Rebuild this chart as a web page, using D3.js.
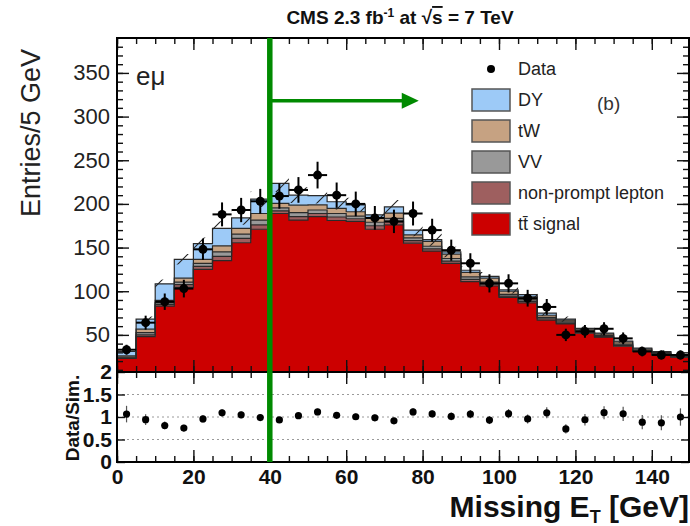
<!DOCTYPE html>
<html>
<head>
<meta charset="utf-8">
<script src="https://cdn.jsdelivr.net/npm/d3@7"></script>
<style>
  body { margin: 0; background: #fff; }
  svg { display: block; font-family: "Liberation Sans", Arial, Helvetica, sans-serif; }
</style>
</head>
<body>
<svg id="chart" width="690" height="526"></svg>
<script>
// Missing transverse energy, e-mu channel, 5 GeV bins
const binEdges = [0,5,10,15,20,25,30,35,40,45,50,55,60,65,70,75,80,85,90,95,100,105,110,115,120,125,130,135,140,145,150];

// Simulated contributions per bin (events)
const ttSignal    = [23,48,83,104.5,125,135,155.5,171,189,181.5,185.5,181,180,171,176,155,146,132,111,106,93,86.5,67,62.5,52,47.5,37,31,27,24.5];
const nonPrompt   = [0.5,2,2,3,3.5,5,5,5,3,4,3.5,4,3,4,3.5,3,2.5,2.5,2.5,2,1.5,1.5,1.5,1,1,0.5,1,0.5,0.5,0.3];
const dibosonVV   = [1,2.5,2,3,3.5,5,5,5.5,3.5,4.5,4,4,3,4,4,3,3,3,3,2.5,2,2,1.5,1.5,1.5,1.5,1.5,1,1,0.7];
const singleTopTW = [1.5,4,2.5,4.5,4.5,7,6.5,7.5,5,8.5,6,6,5,4.5,6,3.5,5.5,5,5,4.5,3.5,3.5,2.5,2,2,1.5,2.5,1.5,1.5,1];
const drellYan    = [5,11.5,19,21.5,18,20,12,16.5,23,11.5,10.5,7.5,8,4,7,5.5,2,2.5,2.5,2,1.5,2.5,2.5,1,1,1,1,1,1,0.5];
// Total simulation uncertainty (events)
const mcUnc       = [1.5,3,5,6,7,8,8,9,10,9,9,9,8,8,8,7,7,6,5,5,4,4,3,3,2.5,2.5,2,1.5,1.5,1.2];

// Observed events and their statistical errors
const dataCounts  = [33,64,88,103,148,188,193,203,209,216,233,210,200,184,180,189,170,147,132,109,109,92,82,50,54,57,46,31,27,27];
const dataErr     = [5.7,8,9.4,10.1,12.2,13.7,13.9,14.2,14.5,14.7,15.3,14.5,14.1,13.6,13.4,13.7,13,12.1,11.5,10.4,10.4,9.6,9.1,7.1,7.3,7.5,6.8,5.6,5.2,5.2];

// Axis ticks
const yMainMajor  = [50,100,150,200,250,300,350];
const xMajor      = [0,20,40,60,80,100,120,140];
const ratioMajor  = [0,0.5,1,1.5,2];
const ratioGrid   = [0.5,1,1.5];

// Selection cut annotation (GeV) and arrow
const cutValue = 40, arrowLevel = 318, arrowEnd = 79;

const layers = [
  { label: "t\u0074\u0304 signal",   values: ttSignal,    color: "#cc0000" },
  { label: "non-prompt lepton", values: nonPrompt,   color: "#9e5f5f" },
  { label: "VV",                values: dibosonVV,   color: "#999999" },
  { label: "tW",                values: singleTopTW, color: "#c6a282" },
  { label: "DY",                values: drellYan,    color: "#9dcaf7" }
];

const svg = d3.select("#chart");
const plotL = 117, plotR = 690, mainT = 38, mainB = 372, ratioB = 462;

const x  = d3.scaleLinear().domain([0, 150]).range([plotL, plotR]);
const y  = d3.scaleLinear().domain([7.5, 390]).range([mainB, mainT]);
const yr = d3.scaleLinear().domain([0, 2]).range([ratioB, mainB]);

const defs = svg.append("defs");
defs.append("clipPath").attr("id", "clipMain")
  .append("rect").attr("x", plotL).attr("y", mainT).attr("width", plotR - plotL).attr("height", mainB - mainT);
defs.append("clipPath").attr("id", "clipRatio")
  .append("rect").attr("x", plotL).attr("y", mainB).attr("width", plotR - plotL).attr("height", ratioB - mainB);
const hatch = defs.append("pattern").attr("id", "hatch")
  .attr("patternUnits", "userSpaceOnUse").attr("width", 26).attr("height", 26);
hatch.append("path")
  .attr("d", "M0,26 L26,0 M-6.5,6.5 L6.5,-6.5 M19.5,32.5 L32.5,19.5")
  .attr("stroke", "#222").attr("stroke-width", 1.1);

const nBins = binEdges.length - 1;
const bins = d3.range(nBins);

// cumulative stack
let base = bins.map(() => 0);
const bands = layers.map(l => {
  const lo = base.slice();
  const hi = bins.map(i => lo[i] + l.values[i]);
  base = hi;
  return { layer: l, lo, hi };
});
const total = base;

function stepPts(lo, hi) {
  const pts = [];
  bins.forEach(i => {
    pts.push({ x: binEdges[i], lo: lo[i], hi: hi[i] });
    pts.push({ x: binEdges[i + 1], lo: lo[i], hi: hi[i] });
  });
  return pts;
}
const area = d3.area().x(d => x(d.x)).y0(d => y(Math.max(d.lo, 0))).y1(d => y(d.hi));
const topLine = d3.line().x(d => x(d.x)).y(d => y(d.hi));

const gMain = svg.append("g").attr("clip-path", "url(#clipMain)");
bands.forEach(b => {
  const lo = b.layer === layers[0] ? bins.map(() => 0) : b.lo;
  gMain.append("path").attr("d", area(stepPts(lo, b.hi))).attr("fill", b.layer.color);
});
bands.forEach(b => {
  gMain.append("path").attr("d", topLine(stepPts(b.lo, b.hi)))
    .attr("fill", "none").attr("stroke", "#2a2a2a").attr("stroke-width", 1.2);
});
// simulation uncertainty band
gMain.append("path")
  .attr("d", area(stepPts(bins.map(i => total[i] - mcUnc[i]), bins.map(i => total[i] + mcUnc[i]))))
  .attr("fill", "url(#hatch)");

// data points
const gData = gMain.append("g").attr("stroke", "#000").attr("stroke-width", 2);
bins.forEach(i => {
  const cx = x((binEdges[i] + binEdges[i + 1]) / 2);
  gData.append("line").attr("x1", x(binEdges[i])).attr("x2", x(binEdges[i + 1]))
    .attr("y1", y(dataCounts[i])).attr("y2", y(dataCounts[i]));
  gData.append("line").attr("x1", cx).attr("x2", cx)
    .attr("y1", y(dataCounts[i] - dataErr[i])).attr("y2", y(dataCounts[i] + dataErr[i]));
  gData.append("circle").attr("cx", cx).attr("cy", y(dataCounts[i])).attr("r", 4.5)
    .attr("fill", "#000").attr("stroke", "none");
});

// ratio panel
const gRatio = svg.append("g").attr("clip-path", "url(#clipRatio)");
ratioGrid.forEach(v => {
  gRatio.append("line").attr("x1", plotL).attr("x2", plotR).attr("y1", yr(v)).attr("y2", yr(v))
    .attr("stroke", "#9a9a9a").attr("stroke-width", 1).attr("stroke-dasharray", "2,3");
});
bins.forEach(i => {
  const cx = x((binEdges[i] + binEdges[i + 1]) / 2);
  const r = dataCounts[i] / total[i];
  const e = dataErr[i] / total[i];
  gRatio.append("line").attr("x1", cx).attr("x2", cx).attr("y1", yr(r - e)).attr("y2", yr(r + e))
    .attr("stroke", "#555").attr("stroke-width", 1.2);
  gRatio.append("circle").attr("cx", cx).attr("cy", yr(r)).attr("r", 3.6).attr("fill", "#000");
});

// axes with inward ticks
function styleAxis(g) {
  g.select(".domain").remove();
  g.selectAll(".tick line").attr("stroke", "#111").attr("stroke-width", 1.4);
  return g;
}
const xMinor = d3.range(0, 151, 5);
function xTicksAt(yPos, dir, labels) {
  const ax = dir === "up" ? d3.axisBottom(x) : d3.axisTop(x);
  styleAxis(svg.append("g").attr("transform", `translate(0,${yPos})`)
    .call(ax.tickValues(xMinor).tickSize(-6).tickFormat("")));
  const g = svg.append("g").attr("transform", `translate(0,${yPos})`)
    .call(ax.tickValues(xMajor).tickSizeInner(-12).tickSizeOuter(0).tickPadding(labels ? 7 : 0)
      .tickFormat(labels ? d3.format("d") : ""));
  styleAxis(g);
  return g;
}
xTicksAt(mainT, "down", false);
xTicksAt(mainB, "up", false);
xTicksAt(mainB, "down", false);
const xLab = xTicksAt(ratioB, "up", true);
xLab.selectAll(".tick text").attr("font-size", 21).attr("font-weight", "bold").attr("fill", "#111")
  .attr("font-family", "Liberation Sans, Arial, sans-serif");

// main y axes
styleAxis(svg.append("g").attr("transform", `translate(${plotL},0)`)
  .call(d3.axisLeft(y).tickValues(d3.range(10, 390, 10)).tickSize(-6).tickFormat("")));
const yLab = styleAxis(svg.append("g").attr("transform", `translate(${plotL},0)`)
  .call(d3.axisLeft(y).tickValues(yMainMajor).tickSizeInner(-12).tickSizeOuter(0).tickPadding(7).tickFormat(d3.format("d"))));
yLab.selectAll(".tick text").attr("font-size", 22).attr("fill", "#222")
  .attr("font-family", "Liberation Sans, Arial, sans-serif");
styleAxis(svg.append("g").attr("transform", `translate(${plotR - 1},0)`)
  .call(d3.axisRight(y).tickValues(d3.range(10, 390, 10)).tickSize(-6).tickFormat("")));
styleAxis(svg.append("g").attr("transform", `translate(${plotR - 1},0)`)
  .call(d3.axisRight(y).tickValues(yMainMajor).tickSize(-12).tickFormat("")));

// ratio y axes
const rLab = styleAxis(svg.append("g").attr("transform", `translate(${plotL},0)`)
  .call(d3.axisLeft(yr).tickValues(ratioMajor).tickSizeInner(-8).tickSizeOuter(0).tickPadding(5).tickFormat(d3.format("~g"))));
rLab.selectAll(".tick text").attr("font-size", 21).attr("font-weight", "bold").attr("fill", "#111")
  .attr("font-family", "Liberation Sans, Arial, sans-serif");
styleAxis(svg.append("g").attr("transform", `translate(${plotR - 1},0)`)
  .call(d3.axisRight(yr).tickValues(ratioMajor).tickSize(-8).tickFormat("")));

// frames
svg.append("rect").attr("x", plotL).attr("y", mainT).attr("width", plotR - plotL - 1).attr("height", mainB - mainT)
  .attr("fill", "none").attr("stroke", "#000").attr("stroke-width", 2);
svg.append("rect").attr("x", plotL).attr("y", mainB).attr("width", plotR - plotL - 1).attr("height", ratioB - mainB)
  .attr("fill", "none").attr("stroke", "#000").attr("stroke-width", 2);

// cut line and arrow
const green = "#008a00";
svg.append("line").attr("x1", x(cutValue)).attr("x2", x(cutValue)).attr("y1", mainT).attr("y2", ratioB)
  .attr("stroke", green).attr("stroke-width", 5.5);
svg.append("line").attr("x1", x(cutValue)).attr("x2", x(arrowEnd) - 14).attr("y1", y(arrowLevel)).attr("y2", y(arrowLevel))
  .attr("stroke", green).attr("stroke-width", 3.5);
svg.append("path")
  .attr("d", `M${x(arrowEnd)},${y(arrowLevel)} L${x(arrowEnd) - 17},${y(arrowLevel) - 8} L${x(arrowEnd) - 17},${y(arrowLevel) + 8} Z`)
  .attr("fill", green);

// legend
const legendX = 472;
const leg = svg.append("g").attr("font-size", 18).attr("fill", "#222");
leg.append("circle").attr("cx", 491).attr("cy", 69).attr("r", 4).attr("fill", "#000");
leg.append("text").attr("x", 518).attr("y", 69).attr("dy", "0.35em").text("Data");
const legendRows = layers.slice().reverse();
legendRows.forEach((l, k) => {
  const cy = 100 + k * 31;
  leg.append("rect").attr("x", legendX).attr("y", cy - 11).attr("width", 38).attr("height", 22)
    .attr("fill", l.color).attr("stroke", "#555").attr("stroke-width", 1.5);
  leg.append("text").attr("x", 518).attr("y", cy).attr("dy", "0.35em").text(l.label);
});

// labels
svg.append("text").attr("x", 597).attr("y", 103).attr("dy", "0.35em").attr("font-size", 19).attr("fill", "#333").text("(b)");
svg.append("text").attr("x", 136).attr("y", 85).attr("font-size", 26).attr("fill", "#222").text("eμ");

const title = svg.append("text").attr("x", 400).attr("y", 24).attr("text-anchor", "middle")
  .attr("font-size", 19).attr("font-weight", "bold").attr("fill", "#111");
title.append("tspan").text("CMS 2.3 fb");
title.append("tspan").attr("font-size", 12).attr("dy", -7).text("-1");
title.append("tspan").attr("dy", 7).text(" at √");
title.append("tspan").style("text-decoration", "overline").text("s");
title.append("tspan").text(" = 7  TeV");

svg.append("text").attr("transform", "translate(40,133) rotate(-90)").attr("text-anchor", "middle")
  .attr("font-size", 27).attr("fill", "#222").text("Entries/5 GeV");
svg.append("text").attr("transform", "translate(79,418) rotate(-90)").attr("text-anchor", "middle")
  .attr("font-size", 19).attr("font-weight", "bold").attr("fill", "#111").text("Data/Sim.");

const xt = svg.append("text").attr("x", 689).attr("y", 517).attr("text-anchor", "end")
  .attr("font-size", 30).attr("font-weight", "bold").attr("fill", "#111");
xt.append("tspan").text("Missing E");
xt.append("tspan").attr("font-size", 18).attr("dy", 6).text("T");
xt.append("tspan").attr("dy", -6).text(" [GeV]");
</script>
</body>
</html>
